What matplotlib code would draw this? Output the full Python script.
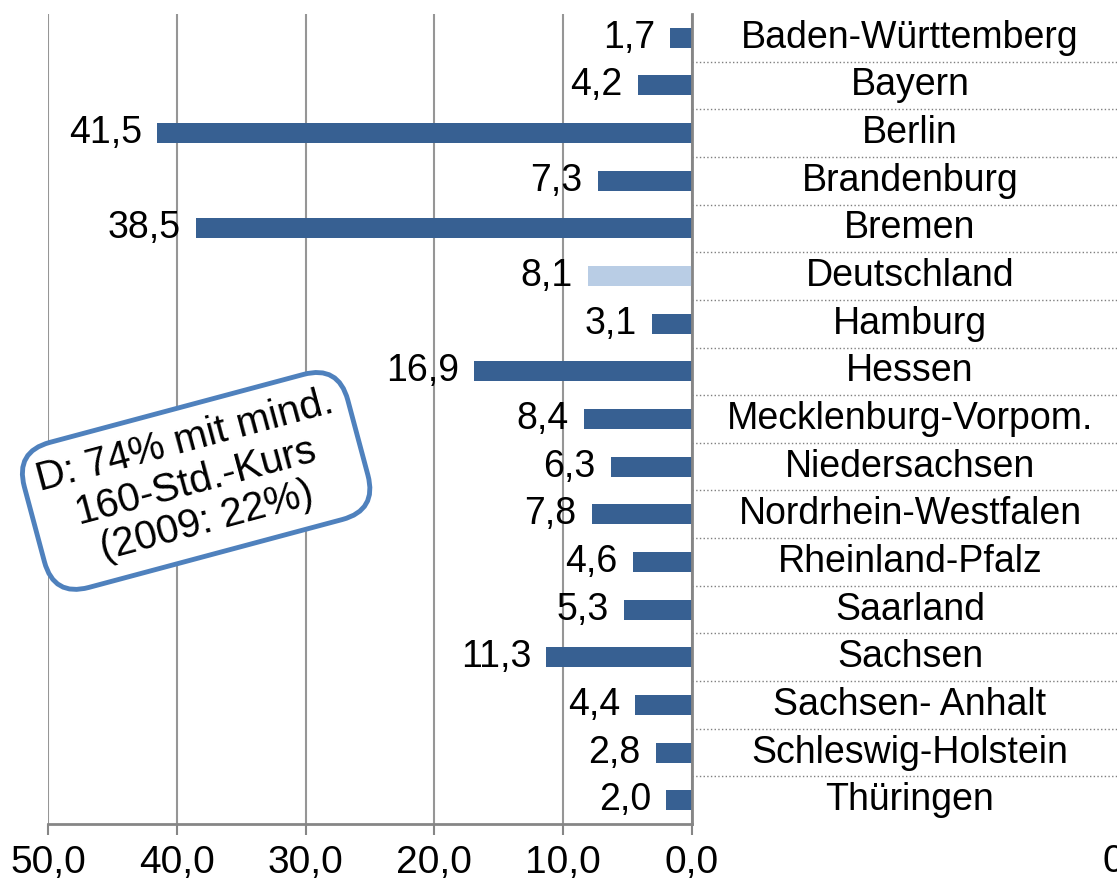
import matplotlib.pyplot as plt
from matplotlib.ticker import FuncFormatter
from matplotlib.transforms import blended_transform_factory

plt.rcParams['font.family'] = ['Liberation Sans', 'DejaVu Sans']

laender = ['Baden-Württemberg', 'Bayern', 'Berlin', 'Brandenburg', 'Bremen',
           'Deutschland', 'Hamburg', 'Hessen', 'Mecklenburg-Vorpom.',
           'Niedersachsen', 'Nordrhein-Westfalen', 'Rheinland-Pfalz',
           'Saarland', 'Sachsen', 'Sachsen- Anhalt', 'Schleswig-Holstein',
           'Thüringen']
werte = [1.7, 4.2, 41.5, 7.3, 38.5, 8.1, 3.1, 16.9, 8.4, 6.3, 7.8, 4.6,
         5.3, 11.3, 4.4, 2.8, 2.0]
x_ticks = [50, 40, 30, 20, 10, 0]

dunkel = '#376092'
hell = '#B9CDE5'
farben = [hell if l == 'Deutschland' else dunkel for l in laender]

fig = plt.figure(figsize=(11.17, 8.86), dpi=100)
ax = fig.add_axes([48 / 1117, 62 / 886, (692 - 48) / 1117, (824 - 14) / 886])

pos = list(range(len(laender)))
ax.barh(pos, werte, height=0.42, color=farben, zorder=3)

ax.set_xlim(50, 0)
ax.set_ylim(len(laender) - 0.5, -0.5)
ax.set_xticks(x_ticks)
ax.xaxis.set_major_formatter(FuncFormatter(lambda v, p: f'{v:.1f}'.replace('.', ',')))
ax.tick_params(axis='x', direction='out', length=8, width=1.5, color='#868686',
               labelsize=28, pad=7)
ax.set_yticks([])
ax.grid(axis='x', color='#969696', lw=1.5, zorder=0)

for s in ['top', 'left']:
    ax.spines[s].set_visible(False)
for s in ['bottom', 'right']:
    ax.spines[s].set_color('#868686')
    ax.spines[s].set_linewidth(2)
    ax.spines[s].set_zorder(4)

# Werte an den Balken
for p, v in zip(pos, werte):
    ax.annotate(f'{v:.1f}'.replace('.', ','), (v, p), xytext=(-11, 0),
                textcoords='offset points', ha='right', va='center', fontsize=27)

# Laendernamen rechts mit gepunkteten Trennlinien
tr = blended_transform_factory(fig.transFigure, ax.transData)
for p, l in zip(pos, laender):
    ax.text(910 / 1117, p, l, transform=tr, ha='center', va='center',
            fontsize=27, clip_on=False)
for p in pos[:-1]:
    ax.plot([692 / 1117, 1.0], [p + 0.5, p + 0.5], transform=tr, ls=':',
            color='#7f7f7f', lw=1, clip_on=False)

fig.text(1102 / 1117, 1 - 862 / 886, '0', ha='left', va='center', fontsize=28)

ax.text(38.5, 9.3, 'D: 74% mit mind.\n160-Std.-Kurs\n(2009: 22%)',
        ha='center', va='center', rotation=15, rotation_mode='anchor',
        fontsize=29, linespacing=1.12, zorder=5,
        bbox=dict(boxstyle='round,pad=0.36,rounding_size=0.9', fc='white',
                  ec='#4F81BD', lw=3.5))

fig.savefig('out.png', dpi=100)
